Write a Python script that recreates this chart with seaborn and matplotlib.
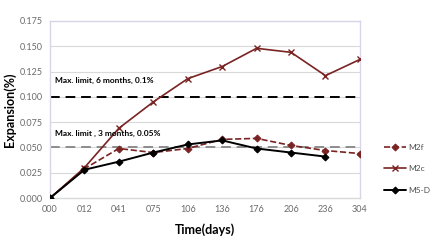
import matplotlib
matplotlib.use("Agg")
import matplotlib.pyplot as plt
import seaborn as sns
import numpy as np
import pandas as pd

days = ["000", "012", "041", "075", "106", "136", "176", "206", "236", "304"]
m2f = [0.000, 0.029, 0.049, 0.045, 0.049, 0.058, 0.059, 0.052, 0.047, 0.044]
m2c = [0.000, 0.030, 0.069, 0.095, 0.118, 0.130, 0.148, 0.144, 0.121, 0.137]
m5d = [0.000, 0.028, 0.036, 0.045, 0.053, 0.057, 0.049, 0.045, 0.041]
limit6 = 0.1
limit3 = 0.05

sns.set_theme(style="white")
plt.rcParams['font.family'] = ['Lato', 'DejaVu Sans']

fig = plt.figure(figsize=(4.46, 2.41), dpi=100)
ax = fig.add_axes([0.112, 0.178, 0.695, 0.735])

red = "#7a2323"
pos = np.arange(len(days))
df_f = pd.DataFrame({"x": pos, "y": m2f})
df_c = pd.DataFrame({"x": pos, "y": m2c})
df_d = pd.DataFrame({"x": pos[:len(m5d)], "y": m5d})

for yv in np.arange(0.025, 0.176, 0.025):
    ax.axhline(yv, color="#d9d9d9", lw=0.8, zorder=0)

ax.axhline(limit6, color="black", lw=1.4, ls=(0, (5, 3)), zorder=1)
ax.axhline(limit3, color="#8c8c8c", lw=1.4, ls=(0, (5, 3)), zorder=1)

sns.lineplot(data=df_f, x="x", y="y", ax=ax, color=red, lw=1.2, ls="--",
             marker="D", markersize=3.5, markeredgecolor=red, label="M2f", zorder=3)
sns.lineplot(data=df_c, x="x", y="y", ax=ax, color=red, lw=1.2,
             marker="x", markersize=5, markeredgecolor=red, markeredgewidth=1, label="M2c", zorder=3)
sns.lineplot(data=df_d, x="x", y="y", ax=ax, color="black", lw=1.4,
             marker="D", markersize=3.5, markeredgecolor="black", label="M5-D", zorder=4)

ax.set_xlim(0, len(days) - 1)
ax.set_ylim(0, 0.175)
ax.set_xticks(pos)
ax.set_xticklabels(days)
ax.set_yticks(np.arange(0, 0.176, 0.025))
ax.set_yticklabels([f"{v:.3f}" for v in np.arange(0, 0.176, 0.025)])
ax.tick_params(axis="both", labelsize=6.5, colors="#6b6b6b", length=0, pad=5)

for s in ax.spines.values():
    s.set_color("#d9d4e6")
    s.set_linewidth(1.0)
ax.spines["bottom"].set_color("#d9d9d9")

ax.set_xlabel("Time(days)", fontsize=9, fontweight="bold", color="black", labelpad=7)
ax.set_ylabel("Expansion(%)", fontsize=9, fontweight="bold", color="black", labelpad=3)

ax.text(0.15, 0.114, "Max. limit, 6 months, 0.1%", fontsize=6, fontweight="bold", color="black")
ax.text(0.15, 0.061, "Max. limit , 3 months, 0.05%", fontsize=6, fontweight="bold", color="black")

leg = ax.legend(loc="upper left", bbox_to_anchor=(1.055, 0.35), frameon=False, fontsize=6,
                labelspacing=1.75, handlelength=2.6, handletextpad=0.2, labelcolor="#505050")

fig.savefig("out.png", dpi=100)
